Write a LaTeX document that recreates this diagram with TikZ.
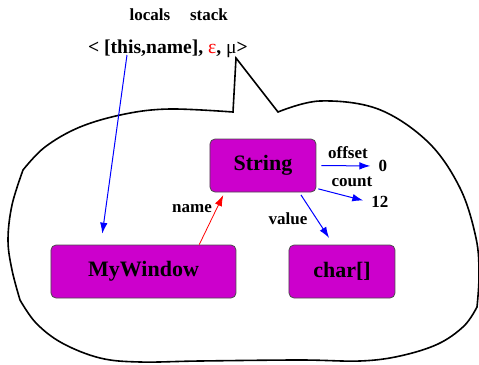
\documentclass[tikz,border=0pt]{standalone}
\usepackage{fontspec}
\setmainfont{Liberation Serif}
\usetikzlibrary{calc,arrows.meta,positioning}
\definecolor{objpink}{RGB}{204,0,204}

\begin{document}
\begin{tikzpicture}[x=0.5pt,y=-0.5pt,>={Latex[length=5.5pt,width=3.8pt]},font=\bfseries]

\tikzset{
obj/.style={draw=black!70,fill=objpink,rounded corners=2.5pt,inner sep=0pt,minimum height=26.5pt,font=\fontsize{11}{13}\selectfont\bfseries},
small/.style={inner sep=1pt,font=\fontsize{8.5}{10}\selectfont\bfseries},
tuple/.style={inner sep=1pt,font=\fontsize{9.8}{12}\selectfont\bfseries},
field/.style={->,draw=blue,line width=0.5pt},
owner/.style={->,draw=red,line width=0.4pt},
bubble/.style={draw=black,line width=0.8pt,line join=miter}
}

\useasboundingbox (0,0) rectangle (479,365);

% Configuration
\node[small] (locals) at (150,15) {locals};
\node[small] (stack) at (209,15) {stack};
\node[tuple] (config) at (168,49) {< [this,name], \textcolor{red}{\mdseries ε}, {\mdseries μ}>};

\coordinate (loc) at (127,55);
\coordinate (spike) at (236,58);

% Heap bubble
\draw[bubble] (233,112) -- (spike) -- (278,112)
  -- plot[smooth,tension=0.6] coordinates {(278,112) (320,101) (378,109) (428,142) (460,188) (476,238) (479,275) (477,307)}
  -- plot[smooth,tension=0.6] coordinates {(477,307) (464,326) (438,344) (400,356) (360,361) (300,360) (200,361) (140,362) (100,358) (62,343) (36,323) (20,300)}
  -- plot[smooth,tension=0.6] coordinates {(20,300) (12,270) (8,240) (12,205) (23,170)}
  -- plot[smooth,tension=0.6] coordinates {(23,170) (45,147) (80,127) (125,114) (170,109) (233,112)}
  -- cycle;

% Objects
\node[obj,minimum width=53pt] (string) at (263,165.5) {String};
\node[obj,minimum width=92.5pt] (mywin) at (143.5,271.5) {MyWindow};
\node[obj,minimum width=53pt] (chars) at (342,271.5) {char[]};

\node[small] (zero) at (383,166) {0};
\node[small] (twelve) at (380,202) {12};

% Arrows
\draw[field,shorten >=5.5pt] (loc) -- ($(mywin.north west)!0.27!(mywin.north east)$);
\draw[owner,shorten >=1.5pt] ($(mywin.north west)!0.8!(mywin.north east)$) -- ($(string.south west)!0.14!(string.south east)$);
\draw[field,shorten <=2.5pt,shorten >=3pt] (string.east) -- (zero.west);
\draw[field,shorten <=1pt,shorten >=3pt] ($(string.east)!0.85!(string.south east)$) -- (twelve.west);
\draw[field,shorten <=1.5pt,shorten >=4pt] ($(string.south west)!0.84!(string.south east)$) -- ($(chars.north west)!0.42!(chars.north east)$);

% Labels
\node[small] (labname) at (192,209) {name};
\node[small] (laboffset) at (348,153) {offset};
\node[small] (labcount) at (352,182) {count};
\node[small] (labvalue) at (288,219) {value};

\end{tikzpicture}
\end{document}
